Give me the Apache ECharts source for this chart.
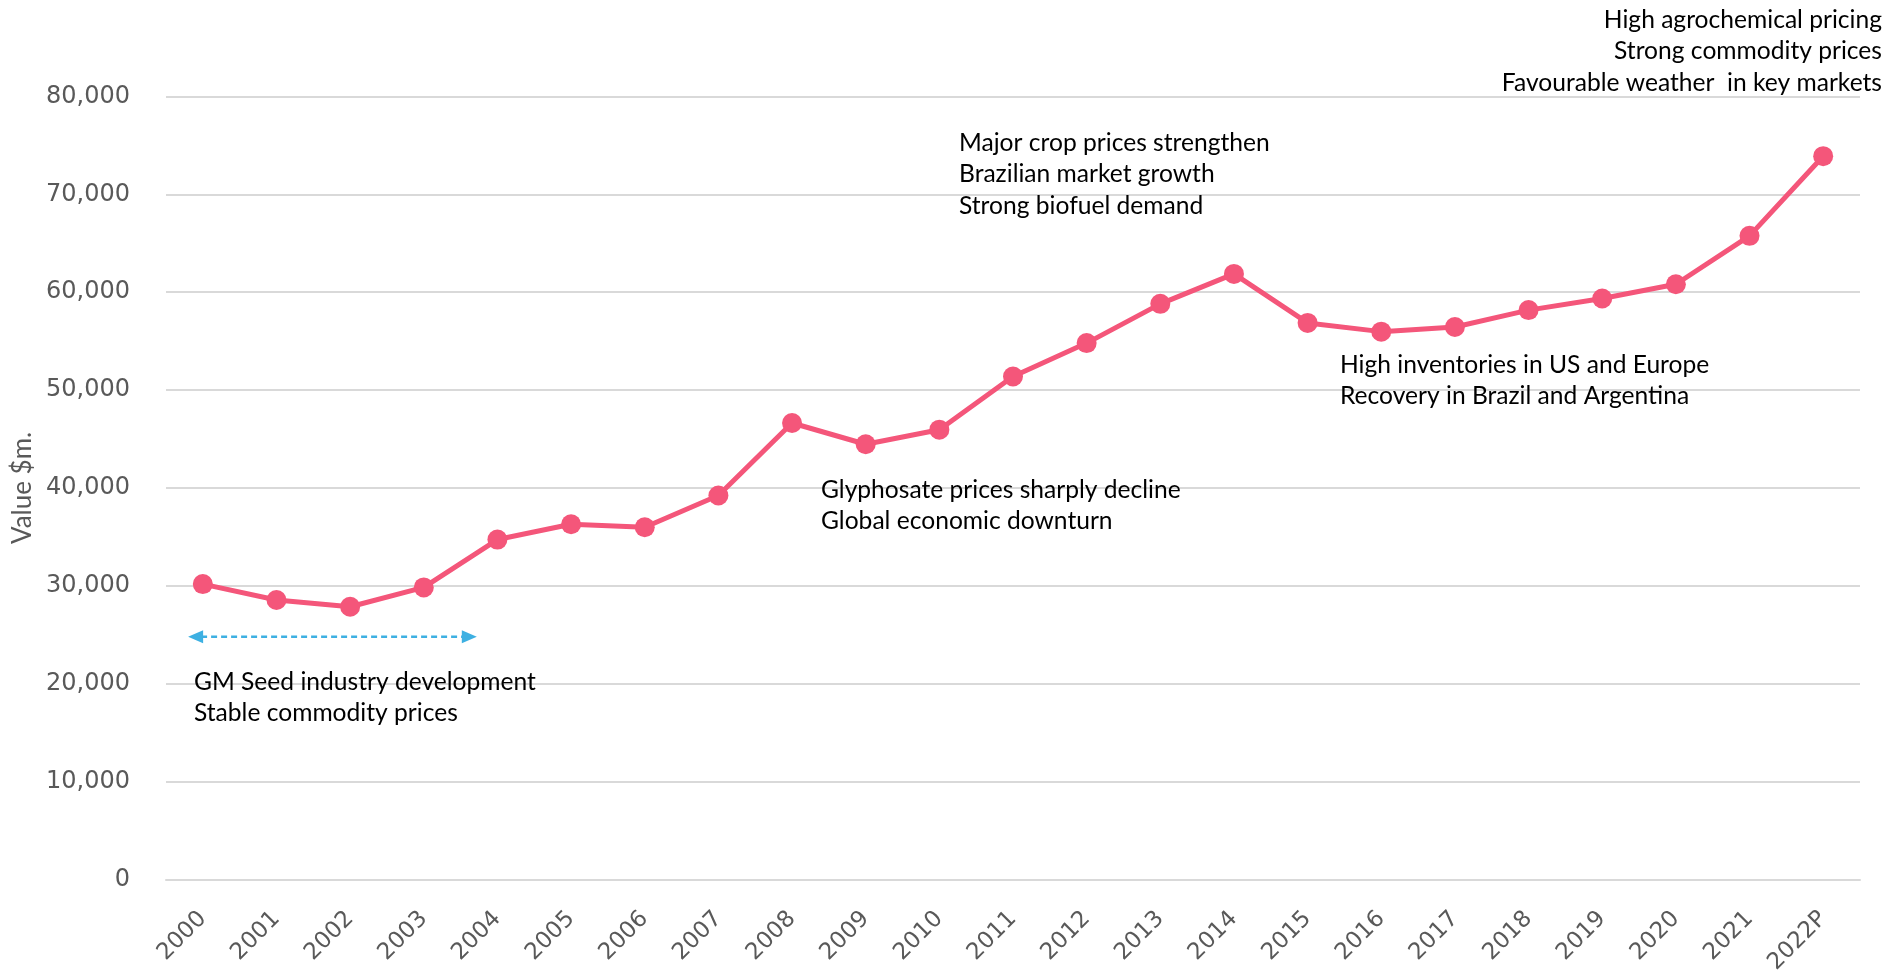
<!DOCTYPE html>
<html>
<head>
<meta charset="utf-8">
<script src="https://cdn.jsdelivr.net/npm/echarts@6/dist/echarts.min.js"></script>
<style>
  html, body { margin: 0; padding: 0; background: #ffffff; }
  #chart { width: 1892px; height: 971px; }
</style>
</head>
<body>
<div id="chart"></div>
<script>
// Global crop protection market value, $m.
const years = ['2000', '2001', '2002', '2003', '2004', '2005', '2006', '2007', '2008', '2009', '2010', '2011',
  '2012', '2013', '2014', '2015', '2016', '2017', '2018', '2019', '2020', '2021', '2022P'];
const marketValue = [30170, 28540, 27850, 29830, 34720, 36290, 35980, 39220, 46630, 44460, 45950, 51390,
  54800, 58810, 61870, 56860, 55970, 56440, 58170, 59360, 60810, 65760, 73900];
const yTicks = [0, 10000, 20000, 30000, 40000, 50000, 60000, 70000, 80000];

// Period markers: start / end category offsets and level of the dashed span arrow
const gmSpanFrom = -0.2;
const gmSpanTo = 3.72;
const gmSpanLevel = 24800;

const notes = {
  gm: ['GM Seed industry development', 'Stable commodity prices'],
  glyphosate: ['Glyphosate prices sharply decline', 'Global economic downturn'],
  crop: ['Major crop prices strengthen', 'Brazilian market growth', 'Strong biofuel demand'],
  inventories: ['High inventories in US and Europe', 'Recovery in Brazil and Argentina'],
  outlook: ['High agrochemical pricing', 'Strong commodity prices', 'Favourable weather  in key markets']
};

const noteFont = '24.6px Lato, "Noto Sans", sans-serif';
const axisGrey = '#595959';
const lineColor = '#F4567A';
const arrowColor = '#3DB0E2';

const chart = echarts.init(document.getElementById('chart'), null, { renderer: 'canvas' });

function noteText(lines, x, y, align) {
  return {
    type: 'text',
    x: x,
    y: y,
    silent: true,
    style: {
      text: lines.join('\n'),
      font: noteFont,
      fill: '#000000',
      lineHeight: 31.6,
      align: align || 'left',
      verticalAlign: 'top'
    }
  };
}

chart.setOption({
  animation: false,
  backgroundColor: '#ffffff',
  grid: {
    left: 166, right: 32, top: 96.5, bottom: 91.7,
    containLabel: false,
    outerBoundsMode: 'none'
  },
  xAxis: {
    type: 'category',
    data: years,
    boundaryGap: true,
    axisLine: { show: true, lineStyle: { color: '#d9d9d9', width: 2 } },
    axisTick: { show: false },
    axisLabel: {
      rotate: 45,
      margin: 36,
      color: axisGrey,
      fontFamily: '"DejaVu Sans", Verdana, sans-serif',
      fontSize: 23
    }
  },
  yAxis: {
    type: 'value',
    min: yTicks[0],
    max: yTicks[yTicks.length - 1],
    interval: yTicks[1] - yTicks[0],
    name: 'Value $m.',
    nameLocation: 'middle',
    nameGap: 112,
    nameRotate: 90,
    nameTextStyle: {
      color: axisGrey,
      fontFamily: 'Lato, sans-serif',
      fontSize: 26
    },
    axisLine: { show: false },
    axisTick: { show: false },
    splitLine: { lineStyle: { color: '#d9d9d9', width: 2 } },
    axisLabel: {
      margin: 36,
      color: axisGrey,
      fontFamily: '"DejaVu Sans", sans-serif',
      fontSize: 24,
      formatter: v => v.toLocaleString('en-US')
    }
  },
  series: [{
    type: 'line',
    data: marketValue,
    symbol: 'circle',
    symbolSize: 20,
    lineStyle: { color: lineColor, width: 5 },
    itemStyle: { color: lineColor },
    z: 3
  }]
});

// Dashed double-headed span arrow and the text notes
const px0 = chart.convertToPixel({ xAxisIndex: 0 }, 0);
const px1 = chart.convertToPixel({ xAxisIndex: 0 }, 1);
const band = px1 - px0;
const ax1 = px0 + gmSpanFrom * band;
const ax2 = px0 + gmSpanTo * band;
const ay = chart.convertToPixel({ yAxisIndex: 0 }, gmSpanLevel);
const head = 15, half = 6.5;

chart.setOption({
  graphic: [
    {
      type: 'line',
      silent: true,
      shape: { x1: ax1 + head - 2, y1: ay, x2: ax2 - head + 2, y2: ay },
      style: { stroke: arrowColor, lineWidth: 2.5, lineDash: [6, 4] }
    },
    {
      type: 'polygon',
      silent: true,
      shape: { points: [[ax1, ay], [ax1 + head, ay - half], [ax1 + head, ay + half]] },
      style: { fill: arrowColor }
    },
    {
      type: 'polygon',
      silent: true,
      shape: { points: [[ax2, ay], [ax2 - head, ay - half], [ax2 - head, ay + half]] },
      style: { fill: arrowColor }
    },
    noteText(notes.gm, 194, 666),
    noteText(notes.glyphosate, 821, 474),
    noteText(notes.crop, 959, 127),
    noteText(notes.inventories, 1340, 349),
    noteText(notes.outlook, 1882, 4, 'right')
  ]
});
</script>
</body>
</html>
